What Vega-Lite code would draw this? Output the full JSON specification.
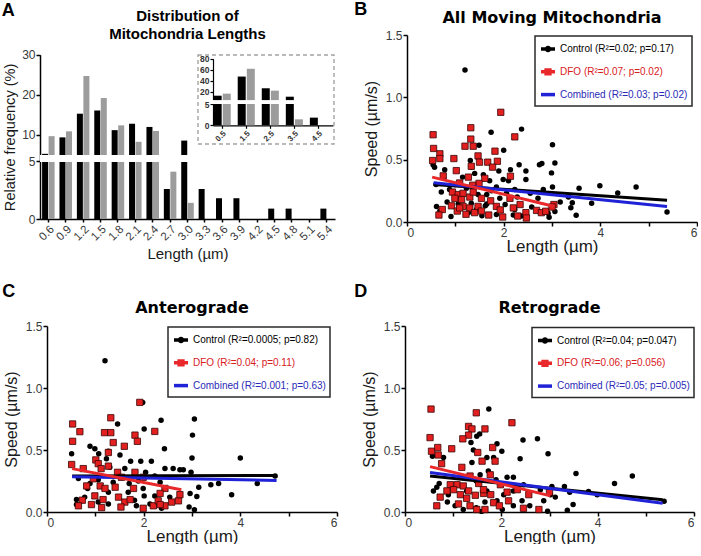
{
"$schema": "https://vega.github.io/schema/vega-lite/v6.json",
"background": "white",
"padding": {"left": 1, "top": 0, "right": 0, "bottom": 0},
"config": {
  "font": "Liberation Sans",
  "view": {"stroke": null},
  "axis": {"grid": false, "domainColor": "#000", "domainWidth": 1.5, "tickColor": "#000", "tickWidth": 1.5, "tickSize": 4, "labelColor": "#3a3a3a", "labelFontSize": 12, "labelPadding": 1, "titleFontWeight": "normal", "titleColor": "#1a1a1a"},
  "title": {"fontWeight": "bold", "color": "#000"},
  "legend": {"strokeColor": "#2a2a2a", "strokeWidth": 1.5, "fillColor": "white", "padding": 4, "symbolStrokeWidth": 3.5, "symbolSize": 196, "labelFontSize": 10, "rowPadding": 4.8, "labelLimit": 300, "labelOffset": 3,
    "symbolType": {"expr": "datum.value == 'Control' ? 'M-1,0L1,0M-0.22,0A0.22,0.22,0,1,1,0.22,0A0.22,0.22,0,1,1,-0.22,0Z' : datum.value == 'DFO' ? 'M-1,0L1,0M-0.27,-0.27L0.27,-0.27L0.27,0.27L-0.27,0.27Z' : 'stroke'"},
    "symbolFillColor": {"expr": "datum.value == 'Control' ? '#000' : datum.value == 'DFO' ? '#e3201f' : 'transparent'"}}
},
"resolve": {"scale": {"color": "independent"}, "legend": {"color": "independent"}},
"datasets": {
  "hist": [
    {"len":"0.6","g":"Control","v":5.3},{"len":"0.6","g":"DFO","v":9.7},
    {"len":"0.9","g":"Control","v":9.4},{"len":"0.9","g":"DFO","v":10.9},
    {"len":"1.2","g":"Control","v":15.3},{"len":"1.2","g":"DFO","v":24.7},
    {"len":"1.5","g":"Control","v":16.1},{"len":"1.5","g":"DFO","v":19.2},
    {"len":"1.8","g":"Control","v":11.2},{"len":"1.8","g":"DFO","v":12.4},
    {"len":"2.1","g":"Control","v":12.8},{"len":"2.1","g":"DFO","v":8.3},
    {"len":"2.4","g":"Control","v":12.0},{"len":"2.4","g":"DFO","v":11.0},
    {"len":"2.7","g":"Control","v":2.6},{"len":"2.7","g":"DFO","v":4.1},
    {"len":"3.0","g":"Control","v":8.6},{"len":"3.0","g":"DFO","v":1.4},
    {"len":"3.3","g":"Control","v":2.6},
    {"len":"3.6","g":"Control","v":1.8},
    {"len":"3.9","g":"Control","v":1.8},
    {"len":"4.5","g":"Control","v":0.9},
    {"len":"4.8","g":"Control","v":0.9},
    {"len":"5.4","g":"Control","v":0.9}
  ],
  "inset": [
    {"bin":"0.5","g":"Control","v":13.3},{"bin":"0.5","g":"DFO","v":17},
    {"bin":"1.5","g":"Control","v":47.8},{"bin":"1.5","g":"DFO","v":61.8},
    {"bin":"2.5","g":"Control","v":26.7},{"bin":"2.5","g":"DFO","v":22.4},
    {"bin":"3.5","g":"Control","v":11.5},{"bin":"3.5","g":"DFO","v":1.4},
    {"bin":"4.5","g":"Control","v":1.8}
  ],
  "b_ctl": [
    {"x":1.2,"y":1.22},{"x":1.74,"y":0.72},{"x":2.37,"y":0.745},{"x":1.49,"y":0.616},{"x":2.0,"y":0.576},{"x":1.31,"y":0.493},{"x":1.33,"y":0.44},{"x":0.57,"y":0.44},{"x":1.99,"y":0.34},{"x":2.32,"y":0.46},{"x":2.46,"y":0.41},{"x":2.74,"y":0.46},{"x":2.14,"y":0.42},{"x":0.78,"y":0.42},{"x":2.46,"y":0.34},{"x":1.15,"y":0.36},{"x":1.58,"y":0.38},{"x":1.71,"y":0.33},{"x":1.45,"y":0.30},{"x":0.71,"y":0.24},{"x":0.88,"y":0.26},{"x":1.23,"y":0.27},{"x":1.85,"y":0.28},{"x":2.06,"y":0.23},{"x":2.23,"y":0.26},{"x":2.55,"y":0.23},{"x":1.47,"y":0.22},{"x":1.65,"y":0.22},{"x":1.92,"y":0.19},{"x":0.83,"y":0.16},{"x":1.33,"y":0.15},{"x":1.65,"y":0.145},{"x":2.03,"y":0.14},{"x":2.23,"y":0.10},{"x":0.61,"y":0.125},{"x":1.06,"y":0.145},{"x":1.27,"y":0.075},{"x":1.85,"y":0.06},{"x":0.91,"y":0.044},{"x":2.20,"y":0.056},{"x":2.37,"y":0.048},{"x":1.44,"y":0.10},{"x":0.68,"y":0.088},{"x":2.71,"y":0.19},{"x":0.54,"y":0.46},{"x":1.0,"y":0.30},{"x":1.1,"y":0.2},{"x":1.55,"y":0.05},{"x":1.75,"y":0.25},{"x":0.6,"y":0.3},{"x":2.1,"y":0.33},{"x":1.9,"y":0.41},{"x":1.4,"y":0.39},{"x":2.28,"y":0.2},{"x":1.62,"y":0.13},{"x":1.05,"y":0.09},{"x":2.58,"y":0.12},
    {"x":3.01,"y":0.62},{"x":2.79,"y":0.47},{"x":3.06,"y":0.474},{"x":2.99,"y":0.394},{"x":2.82,"y":0.26},{"x":3.01,"y":0.28},{"x":3.56,"y":0.27},{"x":3.99,"y":0.29},{"x":4.36,"y":0.233},{"x":4.74,"y":0.28},{"x":5.38,"y":0.08},{"x":3.82,"y":0.15},{"x":3.42,"y":0.155},{"x":3.39,"y":0.115},{"x":3.5,"y":0.055},{"x":3.17,"y":0.16},{"x":2.92,"y":0.07},{"x":2.94,"y":0.038},{"x":3.06,"y":0.085},{"x":3.34,"y":0.2}
  ],
  "b_dfo": [
    {"x":1.94,"y":0.88},{"x":0.54,"y":0.70},{"x":1.32,"y":0.756},{"x":2.23,"y":0.683},{"x":1.32,"y":0.665},{"x":1.20,"y":0.608},{"x":1.37,"y":0.608},{"x":0.55,"y":0.59},{"x":1.82,"y":0.568},{"x":0.68,"y":0.547},{"x":0.68,"y":0.509},{"x":0.53,"y":0.493},{"x":0.97,"y":0.509},{"x":1.47,"y":0.53},{"x":1.67,"y":0.48},{"x":1.87,"y":0.487},{"x":1.50,"y":0.48},{"x":1.33,"y":0.447},{"x":1.02,"y":0.412},{"x":1.77,"y":0.44},{"x":2.14,"y":0.367},{"x":0.75,"y":0.37},{"x":1.27,"y":0.36},{"x":1.61,"y":0.35},{"x":1.09,"y":0.313},{"x":1.49,"y":0.31},{"x":1.36,"y":0.295},{"x":0.94,"y":0.24},{"x":1.06,"y":0.22},{"x":1.16,"y":0.23},{"x":1.30,"y":0.20},{"x":1.37,"y":0.24},{"x":0.99,"y":0.19},{"x":1.13,"y":0.18},{"x":1.54,"y":0.19},{"x":1.73,"y":0.17},{"x":0.92,"y":0.13},{"x":1.16,"y":0.125},{"x":1.30,"y":0.113},{"x":1.47,"y":0.125},{"x":1.85,"y":0.125},{"x":2.13,"y":0.19},{"x":2.34,"y":0.14},{"x":0.73,"y":0.10},{"x":1.04,"y":0.088},{"x":1.40,"y":0.075},{"x":1.54,"y":0.088},{"x":1.69,"y":0.056},{"x":1.98,"y":0.04},{"x":2.29,"y":0.048},{"x":2.46,"y":0.075},{"x":2.47,"y":0.032},{"x":0.66,"y":0.056},{"x":1.22,"y":0.062},{"x":2.68,"y":0.093},{"x":2.78,"y":0.075},{"x":1.93,"y":0.097},{"x":2.20,"y":0.113},{"x":1.09,"y":0.113},{"x":3.04,"y":0.14},{"x":2.87,"y":0.086},{"x":3.0,"y":0.12}
  ],
  "b_lin": [
    {"g":"Control","x":0.55,"y":0.30},{"g":"Control","x":5.38,"y":0.175},
    {"g":"Combined","x":0.55,"y":0.315},{"g":"Combined","x":5.38,"y":0.125},
    {"g":"DFO","x":0.52,"y":0.36},{"g":"DFO","x":3.05,"y":0.125}
  ],
  "c_ctl": [
    {"x":1.2,"y":1.22},{"x":1.98,"y":0.884},{"x":1.46,"y":0.71},{"x":2.36,"y":0.74},{"x":2.01,"y":0.67},{"x":2.43,"y":0.51},{"x":0.51,"y":0.47},{"x":0.89,"y":0.53},{"x":0.99,"y":0.51},{"x":1.51,"y":0.46},{"x":1.73,"y":0.41},{"x":1.94,"y":0.41},{"x":2.16,"y":0.41},{"x":1.07,"y":0.47},{"x":1.23,"y":0.43},{"x":1.30,"y":0.36},{"x":1.61,"y":0.35},{"x":2.44,"y":0.35},{"x":2.61,"y":0.35},{"x":2.75,"y":0.34},{"x":2.04,"y":0.32},{"x":2.23,"y":0.29},{"x":0.65,"y":0.27},{"x":1.06,"y":0.26},{"x":1.37,"y":0.24},{"x":1.70,"y":0.23},{"x":1.89,"y":0.25},{"x":2.34,"y":0.24},{"x":0.84,"y":0.19},{"x":1.27,"y":0.16},{"x":1.68,"y":0.16},{"x":1.99,"y":0.19},{"x":0.61,"y":0.10},{"x":0.78,"y":0.12},{"x":1.06,"y":0.08},{"x":1.27,"y":0.065},{"x":1.81,"y":0.095},{"x":2.01,"y":0.13},{"x":2.23,"y":0.13},{"x":2.13,"y":0.065},{"x":2.54,"y":0.12},{"x":2.37,"y":0.03},{"x":1.85,"y":0.05},{"x":0.61,"y":0.06},{"x":0.89,"y":0.23},{"x":1.27,"y":0.49},
    {"x":3.05,"y":0.75},{"x":3.01,"y":0.62},{"x":3.0,"y":0.435},{"x":4.0,"y":0.435},{"x":2.82,"y":0.34},{"x":2.98,"y":0.32},{"x":4.72,"y":0.29},{"x":3.39,"y":0.22},{"x":3.55,"y":0.23},{"x":4.35,"y":0.23},{"x":3.14,"y":0.20},{"x":2.96,"y":0.15},{"x":3.1,"y":0.125},{"x":3.82,"y":0.14},{"x":2.94,"y":0.04},{"x":3.05,"y":0.018}
  ],
  "c_dfo": [
    {"x":1.92,"y":0.884},{"x":0.53,"y":0.71},{"x":1.32,"y":0.76},{"x":0.68,"y":0.648},{"x":1.19,"y":0.64},{"x":1.32,"y":0.64},{"x":2.23,"y":0.65},{"x":1.82,"y":0.62},{"x":1.87,"y":0.57},{"x":0.53,"y":0.57},{"x":1.37,"y":0.56},{"x":1.6,"y":0.53},{"x":1.27,"y":0.48},{"x":0.51,"y":0.383},{"x":1.01,"y":0.42},{"x":1.06,"y":0.39},{"x":1.12,"y":0.35},{"x":0.75,"y":0.35},{"x":1.27,"y":0.37},{"x":1.82,"y":0.32},{"x":0.96,"y":0.268},{"x":1.46,"y":0.32},{"x":1.54,"y":0.28},{"x":1.99,"y":0.28},{"x":0.82,"y":0.21},{"x":1.10,"y":0.21},{"x":1.2,"y":0.19},{"x":1.41,"y":0.20},{"x":1.79,"y":0.19},{"x":2.44,"y":0.19},{"x":0.73,"y":0.095},{"x":0.92,"y":0.06},{"x":1.16,"y":0.10},{"x":1.48,"y":0.12},{"x":1.61,"y":0.08},{"x":1.72,"y":0.10},{"x":1.53,"y":0.04},{"x":1.99,"y":0.03},{"x":1.13,"y":0.035},{"x":0.65,"y":0.05},{"x":2.20,"y":0.05},{"x":2.34,"y":0.15},{"x":2.44,"y":0.05},{"x":2.58,"y":0.08},{"x":2.72,"y":0.09},{"x":2.75,"y":0.14},{"x":0.99,"y":0.13},{"x":2.3,"y":0.09},{"x":2.34,"y":0.06}
  ],
  "c_lin": [
    {"g":"Control","x":0.52,"y":0.29},{"g":"Control","x":4.75,"y":0.295},
    {"g":"Combined","x":0.52,"y":0.285},{"g":"Combined","x":4.75,"y":0.255},
    {"g":"DFO","x":0.52,"y":0.35},{"g":"DFO","x":2.78,"y":0.18}
  ],
  "d_ctl": [
    {"x":1.74,"y":0.83},{"x":1.55,"y":0.63},{"x":1.49,"y":0.61},{"x":1.37,"y":0.56},{"x":1.91,"y":0.55},{"x":1.70,"y":0.44},{"x":2.01,"y":0.49},{"x":2.45,"y":0.58},{"x":2.75,"y":0.59},{"x":2.39,"y":0.43},{"x":0.57,"y":0.45},{"x":0.80,"y":0.44},{"x":1.42,"y":0.50},{"x":1.39,"y":0.40},{"x":1.84,"y":0.44},{"x":2.12,"y":0.28},{"x":2.25,"y":0.28},{"x":1.73,"y":0.33},{"x":1.56,"y":0.30},{"x":0.71,"y":0.23},{"x":1.13,"y":0.28},{"x":1.48,"y":0.25},{"x":1.89,"y":0.26},{"x":0.59,"y":0.17},{"x":0.90,"y":0.14},{"x":1.28,"y":0.17},{"x":1.70,"y":0.17},{"x":2.05,"y":0.14},{"x":2.25,"y":0.17},{"x":2.46,"y":0.22},{"x":0.88,"y":0.08},{"x":1.21,"y":0.02},{"x":1.48,"y":0.035},{"x":1.66,"y":0.08},{"x":1.91,"y":0.09},{"x":2.25,"y":0.05},{"x":2.43,"y":0.09},{"x":2.59,"y":0.05},{"x":1.59,"y":0.005},{"x":1.04,"y":0.05},{"x":0.66,"y":0.20},{"x":2.02,"y":0.02},
    {"x":2.97,"y":0.47},{"x":3.55,"y":0.31},{"x":4.35,"y":0.23},{"x":4.72,"y":0.29},{"x":5.38,"y":0.086},{"x":3.05,"y":0.205},{"x":3.31,"y":0.205},{"x":3.81,"y":0.165},{"x":3.99,"y":0.14},{"x":3.12,"y":0.12},{"x":2.88,"y":0.09},{"x":3.42,"y":0.16},{"x":3.49,"y":0.06},{"x":2.96,"y":0.006},{"x":3.37,"y":0.015},{"x":3.02,"y":0.14},{"x":2.81,"y":0.18}
  ],
  "d_dfo": [
    {"x":0.54,"y":0.83},{"x":1.48,"y":0.80},{"x":2.22,"y":0.72},{"x":1.32,"y":0.69},{"x":1.39,"y":0.67},{"x":1.66,"y":0.67},{"x":1.32,"y":0.62},{"x":1.20,"y":0.59},{"x":0.52,"y":0.60},{"x":1.82,"y":0.52},{"x":0.97,"y":0.51},{"x":0.68,"y":0.52},{"x":0.55,"y":0.49},{"x":0.69,"y":0.46},{"x":1.51,"y":0.48},{"x":1.87,"y":0.41},{"x":1.60,"y":0.41},{"x":0.76,"y":0.39},{"x":1.18,"y":0.36},{"x":1.35,"y":0.29},{"x":1.77,"y":0.30},{"x":0.94,"y":0.22},{"x":1.08,"y":0.22},{"x":1.21,"y":0.21},{"x":1.53,"y":0.23},{"x":1.98,"y":0.22},{"x":1.01,"y":0.18},{"x":1.15,"y":0.14},{"x":1.32,"y":0.17},{"x":1.46,"y":0.135},{"x":1.63,"y":0.15},{"x":1.78,"y":0.14},{"x":2.12,"y":0.16},{"x":2.33,"y":0.18},{"x":2.57,"y":0.14},{"x":0.73,"y":0.12},{"x":1.11,"y":0.065},{"x":1.35,"y":0.05},{"x":1.66,"y":0.02},{"x":1.84,"y":0.075},{"x":1.96,"y":0.05},{"x":2.46,"y":0.03},{"x":2.78,"y":0.02},{"x":0.66,"y":0.05},{"x":1.49,"y":0.02},{"x":1.28,"y":0.11},{"x":2.15,"y":0.09},{"x":0.87,"y":0.17},{"x":1.63,"y":0.18},{"x":3.0,"y":0.16}
  ],
  "d_lin": [
    {"g":"Control","x":0.52,"y":0.29},{"g":"Control","x":5.35,"y":0.098},
    {"g":"Combined","x":0.52,"y":0.318},{"g":"Combined","x":5.35,"y":0.07},
    {"g":"DFO","x":0.52,"y":0.366},{"g":"DFO","x":3.02,"y":0.13}
  ]
},
"columns": 2,
"align": {"row": "each", "column": "none"},
"spacing": {"row": 21, "column": 16},
"concat": [
  {
    "title": {"text": "A", "anchor": "start", "frame": "bounds", "fontSize": 18, "offset": -11, "dx": -1},
    "vconcat": [{
      "width": 295, "height": 184,
      "title": {"text": ["Distribution of", "Mitochondria Lengths"], "fontSize": 15, "lineHeight": 18, "offset": -7, "frame": "group"},
      "resolve": {"scale": {"x": "independent", "y": "independent", "xOffset": "independent"}},
      "layer": [
        {"data": {"name": "hist"}, "layer": [
          {"mark": {"type": "bar"}, "encoding": {
            "x": {"field": "len", "type": "nominal", "scale": {"domain": ["0.6","0.9","1.2","1.5","1.8","2.1","2.4","2.7","3.0","3.3","3.6","3.9","4.2","4.5","4.8","5.1","5.4"], "paddingInner": 0.28, "paddingOuter": 0.12}, "axis": {"labelAngle": -45, "labelFontSize": 11.5, "labelOverlap": false, "title": "Length (µm)", "titleFontSize": 15, "titlePadding": 4, "tickSize": 3}},
            "xOffset": {"field": "g", "type": "nominal", "scale": {"domain": ["Control","DFO"], "paddingInner": 0.08}},
            "y": {"field": "v", "type": "quantitative", "scale": {"domain": [0,5,5.01,30], "range": [184,126.3,120,19.7], "nice": false, "zero": false}, "axis": {"values": [0,5,10,20,30], "tickCount": 20, "format": "d", "labelOverlap": false, "title": "Relative frequency (%)", "titleFontSize": 14.6, "titlePadding": 4}},
            "color": {"field": "g", "type": "nominal", "scale": {"domain": ["Control","DFO"], "range": ["#000000","#9c9c9c"]}, "legend": null}
          }},
          {"mark": {"type": "rect", "color": "white"}, "encoding": {"y": {"datum": 5, "type": "quantitative"}, "y2": {"datum": 5.01}}}
        ]},
        {"data": {"name": "inset"}, "layer": [
          {"mark": {"type": "bar"}, "encoding": {
            "x": {"field": "bin", "type": "nominal", "scale": {"domain": ["0.5","1.5","2.5","3.5","4.5"], "range": [173, 293], "paddingInner": 0.29, "paddingOuter": 0.14, "align": 0.1}, "axis": {"orient": "bottom", "offset": -93.7, "title": null, "labelAngle": -45, "labelFontSize": 8, "labelFontWeight": "bold", "labelColor": "#333", "labelOverlap": false, "tickSize": 3, "domainWidth": 1.2, "tickWidth": 1.2, "labelPadding": 1}},
            "xOffset": {"field": "g", "type": "nominal", "scale": {"domain": ["Control","DFO"], "paddingInner": 0.12}},
            "y": {"field": "v", "type": "quantitative", "scale": {"domain": [0,5,5.01,80], "range": [90.3,69,65.3,23.7], "nice": false, "zero": false}, "axis": {"orient": "left", "offset": -173, "values": [0,5,20,40,60,80], "tickCount": 20, "format": "d", "title": null, "labelFontSize": 8.5, "labelFontWeight": "bold", "labelColor": "#333", "labelOverlap": false, "tickSize": 3, "domainWidth": 1.2, "tickWidth": 1.2, "labelPadding": 1}},
            "color": {"field": "g", "type": "nominal", "legend": null}
          }},
          {"mark": {"type": "bar", "color": "white", "width": {"band": 1.45}}, "encoding": {"x": {"field": "bin", "type": "nominal"}, "y": {"datum": 5, "type": "quantitative"}, "y2": {"datum": 5.01}}}
        ]},
        {"data": {"values": [{"box": 1}]}, "mark": {"type": "rect", "filled": false, "color": "#a3a3a3", "strokeDash": [4, 3], "strokeWidth": 1.4},
         "encoding": {
           "x": {"datum": 0, "type": "quantitative", "scale": {"domain": [0,1], "range": [158, 294], "nice": false, "zero": false}, "axis": null}, "x2": {"datum": 1},
           "y": {"datum": 0, "type": "quantitative", "scale": {"domain": [0,1], "range": [109, 20], "nice": false, "zero": false}, "axis": null}, "y2": {"datum": 1}
         }}
      ]
    }]
  },
  {
    "title": {"text": "B", "anchor": "start", "frame": "bounds", "fontSize": 18, "offset": -8.6, "dx": -9},
    "vconcat": [{
      "width": 290, "height": 187,
      "title": {"text": "All Moving Mitochondria", "font": "DejaVu Sans", "fontSize": 16, "offset": 3, "frame": "group"},
      "layer": [
        {"data": {"name": "b_ctl"}, "mark": {"type": "point", "shape": "circle", "filled": true, "color": "#000", "size": 30, "opacity": 1},
         "encoding": {
           "x": {"field": "x", "type": "quantitative", "scale": {"domain": [0, 6], "nice": false}, "axis": {"values": [0,1,2,3,4,5,6], "tickCount": 20, "format": "d", "labelExpr": "datum.value % 2 == 0 ? datum.label : ''", "title": "Length (µm)", "titleFontSize": 17, "titlePadding": 0}},
           "y": {"field": "y", "type": "quantitative", "scale": {"domain": [0, 1.5], "nice": false}, "axis": {"values": [0, 0.5, 1, 1.5], "format": ".1f", "title": "Speed (µm/s)", "titleFontSize": 16, "titlePadding": 6}}
         }},
        {"data": {"name": "b_dfo"}, "mark": {"type": "point", "shape": "square", "filled": true, "fill": "#e3201f", "stroke": "#3a0505", "strokeWidth": 0.8, "size": 40, "opacity": 1},
         "encoding": {"x": {"field": "x", "type": "quantitative"}, "y": {"field": "y", "type": "quantitative"}}},
        {"data": {"name": "b_lin"}, "mark": {"type": "line", "strokeWidth": 3},
         "encoding": {
           "x": {"field": "x", "type": "quantitative"}, "y": {"field": "y", "type": "quantitative"},
           "color": {"field": "g", "type": "nominal", "scale": {"domain": ["Control","DFO","Combined"], "range": ["#000000","#e8282b","#1f22d6"]},
             "legend": {"title": null, "orient": "none", "legendX": 128, "legendY": 1, "labelExpr": "datum.label == 'Control' ? 'Control (R²=0.02; p=0.17)' : datum.label == 'DFO' ? 'DFO (R²=0.07; p=0.02)' : 'Combined (R²=0.03; p=0.02)'", "labelColor": {"expr": "datum.value == 'DFO' ? '#d8201c' : datum.value == 'Combined' ? '#2b2bb8' : '#000'"}}}
         }}
      ]
    }]
  },
  {
    "title": {"text": "C", "anchor": "start", "frame": "bounds", "fontSize": 18, "offset": -1, "dx": -1},
    "vconcat": [{
      "width": 297, "height": 186,
      "title": {"text": "Anterograde", "font": "DejaVu Sans", "fontSize": 16, "offset": 4, "frame": "group", "dx": 3.5},
      "layer": [
        {"data": {"name": "c_ctl"}, "mark": {"type": "point", "shape": "circle", "filled": true, "color": "#000", "size": 30, "opacity": 1},
         "encoding": {
           "x": {"field": "x", "type": "quantitative", "scale": {"domain": [0, 6], "range": [7, 297], "nice": false}, "axis": {"values": [0,1,2,3,4,5,6], "tickCount": 20, "format": "d", "labelExpr": "datum.value % 2 == 0 ? datum.label : ''", "title": "Length (µm)", "titleFontSize": 17, "titlePadding": 0}},
           "y": {"field": "y", "type": "quantitative", "scale": {"domain": [0, 1.5], "nice": false}, "axis": {"offset": -7, "values": [0, 0.5, 1, 1.5], "format": ".1f", "title": "Speed (µm/s)", "titleFontSize": 16, "titlePadding": 6}}
         }},
        {"data": {"name": "c_dfo"}, "mark": {"type": "point", "shape": "square", "filled": true, "fill": "#e3201f", "stroke": "#3a0505", "strokeWidth": 0.8, "size": 40, "opacity": 1},
         "encoding": {"x": {"field": "x", "type": "quantitative"}, "y": {"field": "y", "type": "quantitative"}}},
        {"data": {"name": "c_lin"}, "mark": {"type": "line", "strokeWidth": 3},
         "encoding": {
           "x": {"field": "x", "type": "quantitative"}, "y": {"field": "y", "type": "quantitative"},
           "color": {"field": "g", "type": "nominal", "scale": {"domain": ["Control","DFO","Combined"], "range": ["#000000","#e8282b","#1f22d6"]},
             "legend": {"title": null, "orient": "none", "legendX": 128, "legendY": 1, "labelExpr": "datum.label == 'Control' ? 'Control (R²=0.0005; p=0.82)' : datum.label == 'DFO' ? 'DFO (R²=0.04; p=0.11)' : 'Combined (R²=0.001; p=0.63)'", "labelColor": {"expr": "datum.value == 'DFO' ? '#d8201c' : datum.value == 'Combined' ? '#2b2bb8' : '#000'"}}}
         }}
      ]
    }]
  },
  {
    "title": {"text": "D", "anchor": "start", "frame": "bounds", "fontSize": 18, "offset": -1, "dx": -7},
    "vconcat": [{
      "width": 289, "height": 186,
      "title": {"text": "Retrograde", "font": "DejaVu Sans", "fontSize": 16, "offset": 4, "frame": "group"},
      "layer": [
        {"data": {"name": "d_ctl"}, "mark": {"type": "point", "shape": "circle", "filled": true, "color": "#000", "size": 30, "opacity": 1},
         "encoding": {
           "x": {"field": "x", "type": "quantitative", "scale": {"domain": [0, 6], "nice": false}, "axis": {"values": [0,1,2,3,4,5,6], "tickCount": 20, "format": "d", "labelExpr": "datum.value % 2 == 0 ? datum.label : ''", "title": "Length (µm)", "titleFontSize": 17, "titlePadding": 0}},
           "y": {"field": "y", "type": "quantitative", "scale": {"domain": [0, 1.5], "nice": false}, "axis": {"values": [0, 0.5, 1, 1.5], "format": ".1f", "title": "Speed (µm/s)", "titleFontSize": 16, "titlePadding": 6}}
         }},
        {"data": {"name": "d_dfo"}, "mark": {"type": "point", "shape": "square", "filled": true, "fill": "#e3201f", "stroke": "#3a0505", "strokeWidth": 0.8, "size": 40, "opacity": 1},
         "encoding": {"x": {"field": "x", "type": "quantitative"}, "y": {"field": "y", "type": "quantitative"}}},
        {"data": {"name": "d_lin"}, "mark": {"type": "line", "strokeWidth": 3},
         "encoding": {
           "x": {"field": "x", "type": "quantitative"}, "y": {"field": "y", "type": "quantitative"},
           "color": {"field": "g", "type": "nominal", "scale": {"domain": ["Control","DFO","Combined"], "range": ["#000000","#e8282b","#1f22d6"]},
             "legend": {"title": null, "orient": "none", "legendX": 127, "legendY": 1.5, "labelExpr": "datum.label == 'Control' ? 'Control (R²=0.04; p=0.047)' : datum.label == 'DFO' ? 'DFO (R²=0.06; p=0.056)' : 'Combined (R²=0.05; p=0.005)'", "labelColor": {"expr": "datum.value == 'DFO' ? '#d8201c' : datum.value == 'Combined' ? '#2b2bb8' : '#000'"}}}
         }}
      ]
    }]
  }
]
}
